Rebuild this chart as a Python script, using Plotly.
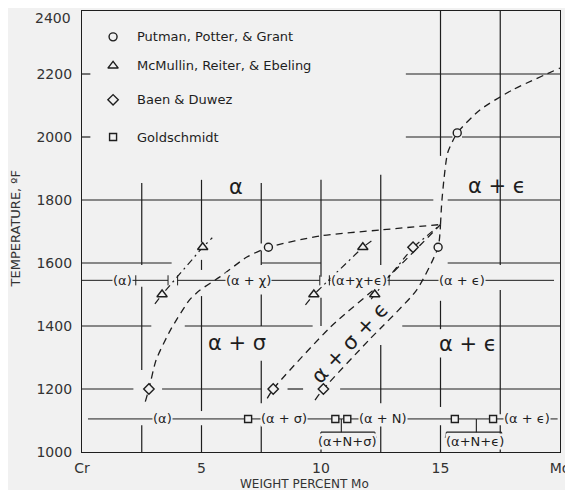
import plotly.graph_objects as go

# ---------------- data ----------------
x_tickvals = [0, 5, 10, 15, 20]
x_ticktext = ["Cr", "5", "10", "15", "Mo"]
y_tickvals = [1000, 1200, 1400, 1600, 1800, 2000, 2200]
y_top_label = "2400"

# experimental points
putman_x = [7.8, 14.9, 15.7]
putman_y = [1650, 1650, 2013]
mcmullin_x = [3.35, 5.05, 9.7, 11.75, 12.25]
mcmullin_y = [1500, 1650, 1500, 1650, 1500]
baen_x = [2.8, 8.0, 10.1, 13.85]
baen_y = [1200, 1200, 1200, 1650]
gold_x = [6.95, 10.6, 11.1, 15.6, 17.2]
gold_y = [1105, 1105, 1105, 1105, 1105]

# dashed phase boundaries
b1_x = [2.65, 2.8, 3.1, 3.7, 4.5, 4.94, 5.77, 6.9, 7.8, 9.96, 12.5, 15.0]
b1_y = [1160, 1200, 1292, 1387, 1483, 1514, 1556, 1619, 1650, 1686, 1705, 1722]
b2_x = [7.75, 8.0, 10.4, 12.76, 15.0]
b2_y = [1170, 1200, 1397, 1552, 1722]
b3_x = [9.75, 10.1, 12.0, 14.0, 14.9, 15.0]
b3_y = [1165, 1200, 1355, 1514, 1650, 1722]
b4_x = [15.0, 15.05, 15.15, 15.3, 15.7, 16.65, 18.0, 20.0]
b4_y = [1722, 1790, 1870, 1950, 2013, 2086, 2149, 2219]

# dash-dot boundaries (McMullin)
d1_x = [3.05, 3.35, 5.05, 5.45]
d1_y = [1470, 1500, 1650, 1680]
d2_x = [9.35, 9.7, 11.75, 12.2]
d2_y = [1467, 1500, 1650, 1675]
d3_x = [12.1, 12.25, 13.85, 15.0]
d3_y = [1485, 1500, 1650, 1722]

# legend
legend_labels = ["Putman, Potter, & Grant", "McMullin, Reiter, & Ebeling",
                 "Baen & Duwez", "Goldschmidt"]
legend_y = [2318, 2226, 2118, 2000]

# phase field labels
big_labels = ["α", "α + ϵ", "α + σ", "α + ϵ"]
big_x = [6.45, 17.35, 6.5, 16.15]
big_y = [1841, 1845, 1346, 1343]

diag_label = "α + σ + ϵ"
diag_x, diag_y = 11.2, 1346

# isotherm at 1545 F
iso1_y = 1545
iso1_labels = ["(α)", "(α + χ)", "(α+χ+ϵ)", "(α + ϵ)"]
iso1_x = [1.7, 6.95, 11.6, 15.9]
iso1_segments = [(0, 3.6), (4.0, 9.95), (10.3, 19.75)]
iso1_ticks = [2.25, 3.6, 4.0, 9.95, 10.35, 12.85]

# isotherm at 1105 F
iso2_y = 1105
iso2_labels = ["(α)", "(α + σ)", "(α + N)", "(α + ϵ)"]
iso2_x = [3.35, 8.45, 12.6, 18.6]
iso2_segments = [(0.25, 19.9)]
brace_labels = ["(α+N+σ)", "(α+N+ϵ)"]
brace_x = [11.1, 16.45]
brace_span = [(10.0, 12.25), (15.25, 17.55)]
brace_stem = [10.85, 16.5]

# grid segments
h_grid = {1800: [(0, 14.7), (15.3, 20)],
          2000: [(13.55, 15.5), (15.9, 20)],
          2200: [(13.55, 20)],
          1600: [(0, 3.75), (7.5, 10), (15.3, 20)],
          1400: [(0, 2.9), (4.3, 9.65), (13.4, 20)],
          1200: [(0, 2.15), (3.35, 7.5), (8.6, 9.25), (10.8, 20)]}
v_grid = {2.5: [(1854, 1594), (1525, 1260), (1085, 1000)],
          5: [(1864, 1665), (1610, 1578), (1495, 1130), (1085, 1000)],
          7.5: [(1854, 1662), (1640, 1594), (1500, 1400), (1290, 1155), (1085, 1000)],
          10: [(1864, 1556), (1490, 1400), (1020, 1000)],
          12.5: [(1880, 1594), (1340, 1155), (1085, 1000)],
          15: [(2400, 1940), (1480, 1390), (1300, 1143), (1085, 1000)],
          17.5: [(2400, 1594), (1514, 1120), (1085, 1000)]}

# ---------------- style ----------------
BG = "#f1f1f1"
INK = "#1e1e1e"
FONT = "DejaVu Sans"
DASH = "7px,5px"
DASHDOT = "7px,4px,2px,4px"

fig = go.Figure()

for bx, by in [(b1_x, b1_y), (b2_x, b2_y), (b3_x, b3_y), (b4_x, b4_y)]:
    fig.add_trace(go.Scatter(x=bx, y=by, mode="lines", showlegend=False, hoverinfo="skip",
                             line=dict(color=INK, width=1.3, dash=DASH, shape="spline", smoothing=0.6)))
for dx, dy in [(d1_x, d1_y), (d2_x, d2_y), (d3_x, d3_y)]:
    fig.add_trace(go.Scatter(x=dx, y=dy, mode="lines", showlegend=False, hoverinfo="skip",
                             line=dict(color=INK, width=1.2, dash=DASHDOT)))

mk = dict(color=BG, line=dict(color=INK, width=1.4))
series = [(putman_x, putman_y, "circle", 8),
          (mcmullin_x, mcmullin_y, "triangle-up", 9),
          (baen_x, baen_y, "diamond", 8),
          (gold_x, gold_y, "square", 7)]
for sx, sy, sym, sz in series:
    fig.add_trace(go.Scatter(x=sx, y=sy, mode="markers", showlegend=False,
                             marker=dict(symbol=sym, size=sz, **mk)))

# legend markers
for (sx, sy, sym, sz), ly in zip(series, legend_y):
    fig.add_trace(go.Scatter(x=[1.3], y=[ly], mode="markers", showlegend=False,
                             marker=dict(symbol=sym, size=sz, **mk)))
for lab, ly in zip(legend_labels, legend_y):
    fig.add_annotation(x=2.2, y=ly, text=lab, showarrow=False, xanchor="left",
                       font=dict(family=FONT, size=13, color=INK))

shapes = []
def seg(x0, y0, x1, y1, w=1.2, layer="below"):
    shapes.append(dict(type="line", x0=x0, y0=y0, x1=x1, y1=y1, xref="x", yref="y",
                       line=dict(color=INK, width=w), layer=layer))

for yv, spans in h_grid.items():
    for a, b in spans:
        seg(a, yv, b, yv)
for xv, spans in v_grid.items():
    for a, b in spans:
        seg(xv, a, xv, b)
# inside ticks on y axis
for yv in [2000, 2200]:
    seg(0, yv, 0.35, yv)

# isotherm 1
for a, b in iso1_segments:
    seg(a, iso1_y, b, iso1_y, w=1.0)
for t in iso1_ticks:
    seg(t, iso1_y - 16, t, iso1_y + 16, w=1.0)
for lab, lx in zip(iso1_labels, iso1_x):
    fig.add_annotation(x=lx, y=iso1_y, text=lab, showarrow=False, bgcolor=BG, borderpad=0,
                       font=dict(family=FONT, size=13, color=INK))
# isotherm 2
for a, b in iso2_segments:
    seg(a, iso2_y, b, iso2_y, w=1.0)
for lab, lx in zip(iso2_labels, iso2_x):
    fig.add_annotation(x=lx, y=iso2_y, text=lab, showarrow=False, bgcolor=BG, borderpad=0,
                       font=dict(family=FONT, size=13, color=INK))
for lab, lx, (a, b), st in zip(brace_labels, brace_x, brace_span, brace_stem):
    seg(a, 1063, b, 1063, w=1.1)
    seg(a, 1063, a - 0.05, 1045, w=1.1)
    seg(b, 1063, b + 0.05, 1045, w=1.1)
    seg(st, 1063, st, iso2_y, w=1.1)
    fig.add_annotation(x=lx, y=1033, text=lab, showarrow=False, bgcolor=BG, borderpad=0,
                       font=dict(family=FONT, size=13, color=INK))

for lab, lx, ly in zip(big_labels, big_x, big_y):
    fig.add_annotation(x=lx, y=ly, text=lab, showarrow=False,
                       font=dict(family=FONT, size=21, color=INK))
fig.add_annotation(x=diag_x, y=diag_y, text=diag_label, showarrow=False, textangle=-47,
                   font=dict(family=FONT, size=21, color=INK))

# top y label (sits just below the frame in the original)
fig.add_annotation(xref="paper", x=-0.019, xanchor="right", y=2378, yanchor="middle",
                   text=y_top_label, showarrow=False,
                   font=dict(family=FONT, size=14, color="#333"))

# axis titles
fig.add_annotation(xref="paper", yref="paper", x=0.466, y=-0.073, xanchor="center",
                   yanchor="middle", text="WEIGHT PERCENT Mo", showarrow=False,
                   font=dict(family=FONT, size=12, color="#333"))
fig.add_annotation(xref="paper", yref="paper", x=-0.139, y=0.506, xanchor="center",
                   yanchor="middle", textangle=-90,
                   text="TEMPERATURE, ºF", showarrow=False,
                   font=dict(family=FONT, size=13, color="#333"))

fig.update_layout(
    width=565, height=482,
    margin=dict(l=74, r=13, t=3, b=38, autoexpand=False),
    paper_bgcolor=BG, plot_bgcolor=BG,
    shapes=shapes,
    showlegend=False,
    xaxis=dict(range=[0, 20], tickvals=x_tickvals, ticktext=x_ticktext, showgrid=False,
               zeroline=False, showline=True, mirror=True, linecolor=INK, linewidth=1.3,
               ticks="", ticklabelstandoff=3, automargin=False,
               tickfont=dict(family=FONT, size=14, color="#333")),
    yaxis=dict(range=[1000, 2400], tickvals=y_tickvals, showgrid=False,
               zeroline=False, showline=True, mirror=True, linecolor=INK, linewidth=1.3,
               ticks="", ticklabelstandoff=6, automargin=False,
               tickfont=dict(family=FONT, size=14, color="#333")),
)

fig.write_html("out.html")
